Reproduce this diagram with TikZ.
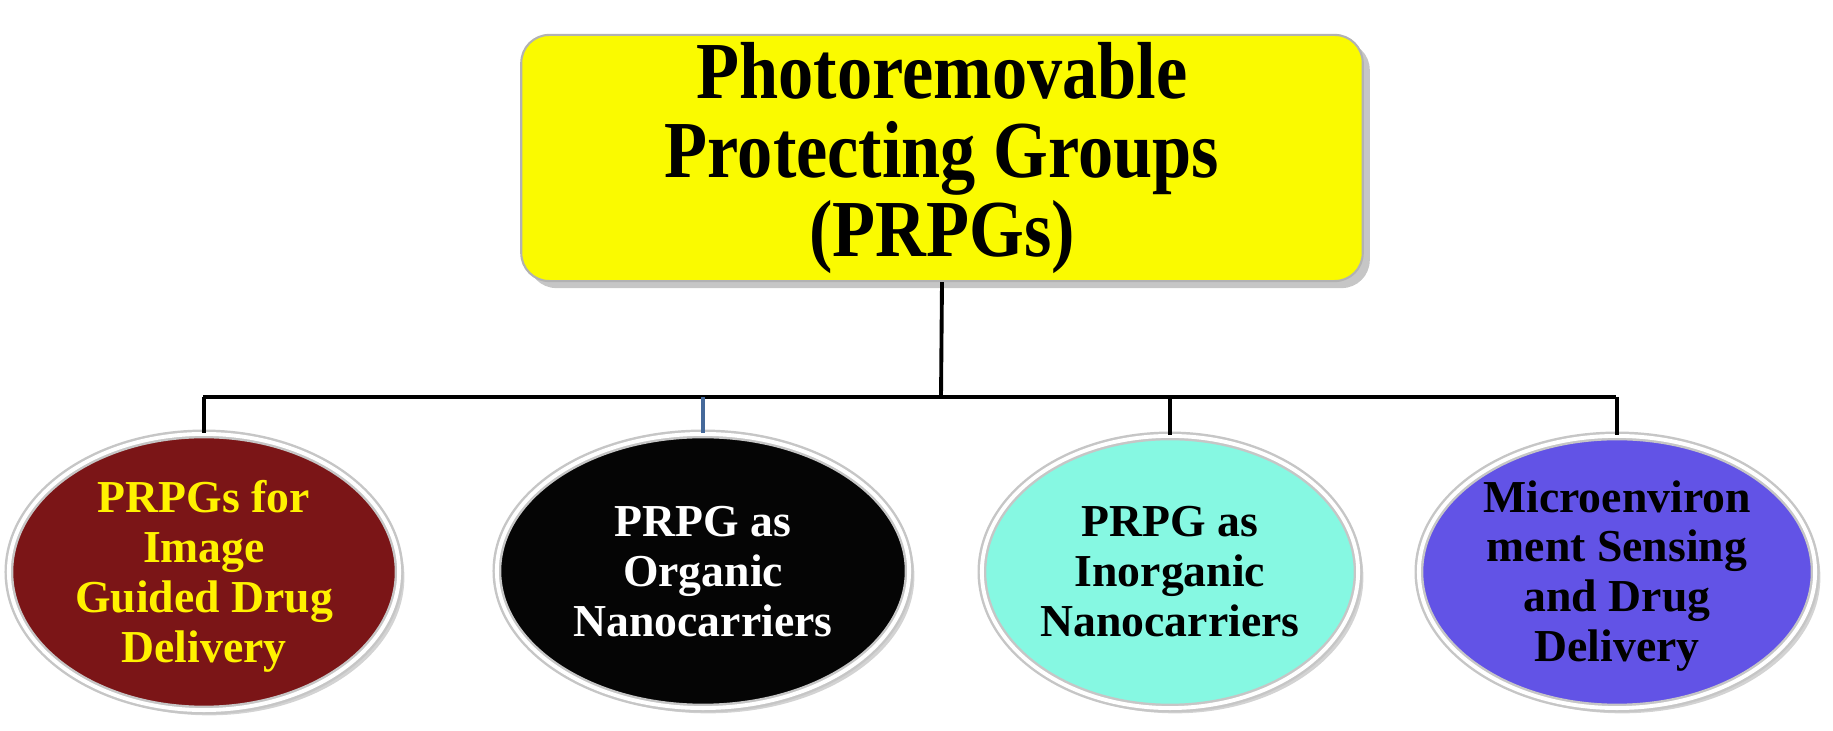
\documentclass[tikz,border=0pt]{standalone}
\usepackage{fontspec}
\setmainfont{Liberation Serif}
\usetikzlibrary{shapes.geometric,shadows}

\definecolor{boxyellow}{HTML}{FAFA00}
\definecolor{maroon}{HTML}{7B1517}
\definecolor{aqua}{HTML}{86F8E2}
\definecolor{violet}{HTML}{6253E6}
\definecolor{stubblue}{HTML}{45699A}

\begin{document}
\begin{tikzpicture}[
  x = 0.01cm, y = -0.01cm,
  every node/.style = {inner sep=0pt},
  topbox/.style     = {draw=gray!60, line width=0.6pt, fill=boxyellow, rounded corners=0.28cm,
                       minimum width=8.41cm, minimum height=2.46cm,
                       drop shadow={shadow xshift=2pt, shadow yshift=-2pt, opacity=0.45}},
  oval/.style       = {ellipse, draw=gray!45, line width=0.7pt, double=white, double distance=1.1pt,
                       drop shadow={shadow xshift=1.5pt, shadow yshift=-1.5pt, opacity=0.35}},
  toptext/.style    = {align=center, yscale=1.15, transform shape,
                       font=\bfseries\fontsize{20}{19.5}\selectfont},
  ovaltext/.style   = {align=center, font=\bfseries\fontsize{13}{14.2}\selectfont},
  branch/.style     = {draw=black, line width=1.1pt},
]
\useasboundingbox (0,0) rectangle (1833,731);

% level 0
\node[topbox] (prpg) at (942, 158) {};
\node[toptext] (prpgtxt) at (942, 158) {Photoremovable\\Protecting Groups\\(PRPGs)};
% bus
\coordinate (jn) at (941, 397);
\coordinate (busL) at (203, 397);
\coordinate (busR) at (1616, 397);
% level 1
\node[oval, fill=maroon, minimum width=3.9cm, minimum height=2.76cm] (imaging) at (204, 572) {};
\node[oval, fill=black!98, minimum width=4.12cm, minimum height=2.74cm] (organic) at (703, 571) {};
\node[oval, fill=aqua, minimum width=3.76cm, minimum height=2.72cm] (inorganic) at (1170, 572) {};
\node[oval, fill=violet, minimum width=3.96cm, minimum height=2.72cm] (sensing) at (1617, 572) {};
\node[ovaltext, text=yellow] (imagingtxt) at (204, 576) {PRPGs for\\Image\\Guided Drug\\Delivery};
\node[ovaltext, text=white] (organictxt) at (703, 572) {PRPG as\\Organic\\Nanocarriers};
\node[ovaltext, text=black] (inorganictxt) at (1170, 572) {PRPG as\\Inorganic\\Nanocarriers};
\node[ovaltext, text=black] (sensingtxt) at (1617, 576) {Microenviron\\ment Sensing\\and Drug\\Delivery};

\draw[branch] (prpg.south) -- (jn);
\draw[branch] (busL) -- (busR);
\foreach \c in {imaging, inorganic, sensing}
  \draw[branch] (\c.north |- jn) -- (\c.north);
\draw[branch, draw=stubblue] (organic.north |- jn) -- (organic.north);

\end{tikzpicture}
\end{document}
